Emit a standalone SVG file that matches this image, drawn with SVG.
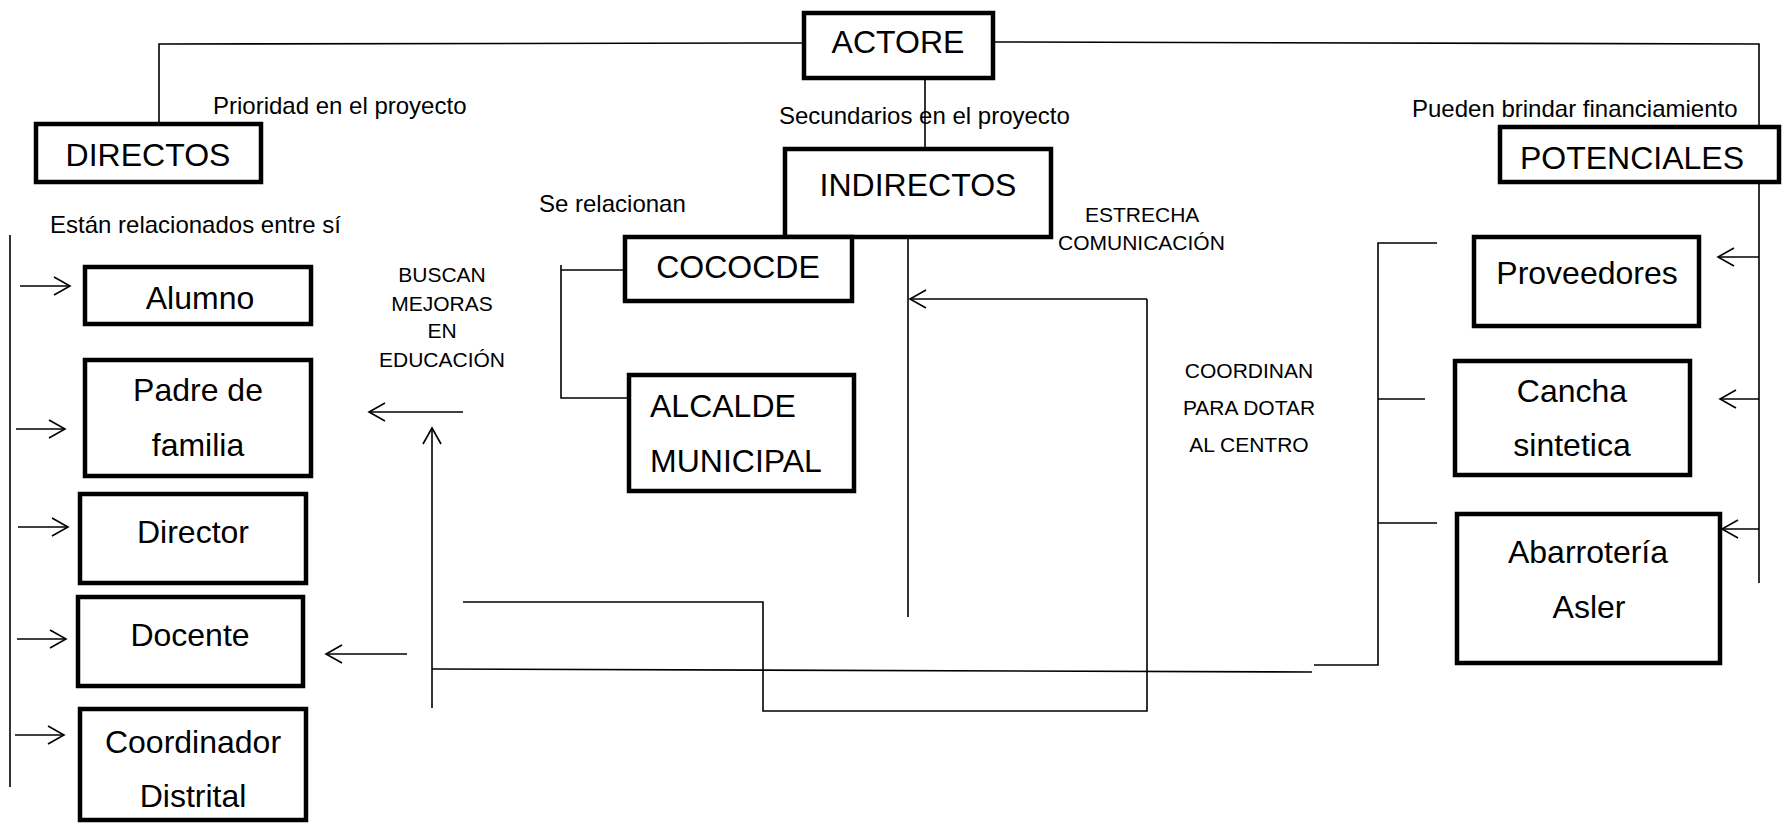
<svg xmlns="http://www.w3.org/2000/svg" width="1784" height="827" viewBox="0 0 1784 827">
<style>
.box{fill:#fff;stroke:#000;stroke-width:4.5}
.ln{fill:none;stroke:#000;stroke-width:1.6}
.arr{fill:none;stroke:#000;stroke-width:1.6;marker-end:url(#ah)}
.nt{font-family:"Liberation Sans",Arial,sans-serif;font-size:32px;fill:#000;text-anchor:middle}
.nts{font-family:"Liberation Sans",Arial,sans-serif;font-size:32px;fill:#000;text-anchor:start}
.lb{font-family:"Liberation Sans",Arial,sans-serif;font-size:24px;fill:#000}
.sm{font-family:"Liberation Sans",Arial,sans-serif;font-size:21px;fill:#000}
.mid{text-anchor:middle}
</style>
<defs>
<marker id="ah" markerUnits="userSpaceOnUse" markerWidth="20" markerHeight="22" viewBox="-1 -11 20 22" refX="16" refY="0" orient="auto">
<path d="M0,-9 L16,0 L0,9" fill="none" stroke="#000" stroke-width="1.6"/>
</marker>
</defs>
<rect width="1784" height="827" fill="#fff"/>
<g id="connectors">
<polyline class="ln" points="159,122 159,44 802,43"/>
<polyline class="ln" points="995,42 1759,44 1759,583"/>
<line class="ln" x1="925" y1="80" x2="925" y2="147"/>
<line class="ln" x1="10" y1="235" x2="10" y2="787"/>
<line class="arr" x1="20" y1="286" x2="70" y2="286"/>
<line class="arr" x1="16" y1="429" x2="65" y2="429"/>
<line class="arr" x1="18" y1="527" x2="68" y2="527"/>
<line class="arr" x1="17" y1="639" x2="66" y2="639"/>
<line class="arr" x1="15" y1="735" x2="64" y2="735"/>
<polyline class="ln" points="623,270 561,270"/>
<polyline class="ln" points="561,265 561,398 627,398"/>
<line class="ln" x1="908" y1="239" x2="908" y2="617"/>
<line class="arr" x1="1147" y1="299" x2="910" y2="299"/>
<polyline class="ln" points="1147,299 1147,711 763,711 763,602 463,602"/>
<line class="arr" x1="463" y1="412" x2="369" y2="412"/>
<line class="arr" x1="432" y1="708" x2="432" y2="428"/>
<line class="ln" x1="432" y1="669" x2="1312" y2="672"/>
<line class="arr" x1="407" y1="654" x2="326" y2="654"/>
<polyline class="ln" points="1437,243 1378,243 1378,665 1314,665"/>
<line class="ln" x1="1378" y1="399" x2="1425" y2="399"/>
<line class="ln" x1="1378" y1="523" x2="1437" y2="523"/>
<line class="arr" x1="1759" y1="257" x2="1718" y2="257"/>
<line class="arr" x1="1759" y1="399" x2="1720" y2="399"/>
<line class="arr" x1="1759" y1="529" x2="1722" y2="529"/>
</g>
<g id="labels">
<text class="lb" x="213" y="114">Prioridad en el proyecto</text>
<text class="lb" x="779" y="124">Secundarios en el proyecto</text>
<text class="lb" x="1412" y="117">Pueden brindar financiamiento</text>
<text class="lb" x="50" y="233">Están relacionados entre sí</text>
<text class="lb" x="539" y="212">Se relacionan</text>
<text class="sm mid" x="442" y="282">BUSCAN</text>
<text class="sm mid" x="442" y="311">MEJORAS</text>
<text class="sm mid" x="442" y="338">EN</text>
<text class="sm mid" x="442" y="367">EDUCACIÓN</text>
<text class="sm" x="1085" y="222">ESTRECHA</text>
<text class="sm" x="1058" y="250">COMUNICACIÓN</text>
<text class="sm mid" x="1249" y="378">COORDINAN</text>
<text class="sm mid" x="1249" y="415">PARA DOTAR</text>
<text class="sm mid" x="1249" y="452">AL CENTRO</text>
</g>
<g id="actore"><rect class="box" x="804" y="13" width="189" height="65"/><text class="nt" x="898" y="53">ACTORE</text></g>
<g id="directos"><rect class="box" x="36" y="124" width="225" height="58"/><text class="nt" x="148" y="166">DIRECTOS</text></g>
<g id="indirectos"><rect class="box" x="785" y="149" width="266" height="88"/><text class="nt" x="918" y="196">INDIRECTOS</text></g>
<g id="potenciales"><rect class="box" x="1500" y="127" width="279" height="55"/><text class="nt" x="1632" y="169">POTENCIALES</text></g>
<g id="cococde"><rect class="box" x="625" y="237" width="227" height="64"/><text class="nt" x="738" y="278">COCOCDE</text></g>
<g id="alcalde"><rect class="box" x="629" y="375" width="225" height="116"/><text class="nts" x="650" y="417">ALCALDE</text><text class="nts" x="650" y="472">MUNICIPAL</text></g>
<g id="alumno"><rect class="box" x="85" y="267" width="226" height="57"/><text class="nt" x="200" y="309">Alumno</text></g>
<g id="padre"><rect class="box" x="85" y="360" width="226" height="116"/><text class="nt" x="198" y="401">Padre de</text><text class="nt" x="198" y="456">familia</text></g>
<g id="director"><rect class="box" x="80" y="494" width="226" height="89"/><text class="nt" x="193" y="543">Director</text></g>
<g id="docente"><rect class="box" x="78" y="597" width="225" height="89"/><text class="nt" x="190" y="646">Docente</text></g>
<g id="coordinador"><rect class="box" x="80" y="709" width="226" height="111"/><text class="nt" x="193" y="753">Coordinador</text><text class="nt" x="193" y="807">Distrital</text></g>
<g id="proveedores"><rect class="box" x="1474" y="237" width="225" height="89"/><text class="nt" x="1587" y="284">Proveedores</text></g>
<g id="cancha"><rect class="box" x="1455" y="361" width="235" height="114"/><text class="nt" x="1572" y="402">Cancha</text><text class="nt" x="1572" y="456">sintetica</text></g>
<g id="abarroteria"><rect class="box" x="1457" y="514" width="263" height="149"/><text class="nt" x="1588" y="563">Abarrotería</text><text class="nt" x="1589" y="618">Asler</text></g>
</svg>
